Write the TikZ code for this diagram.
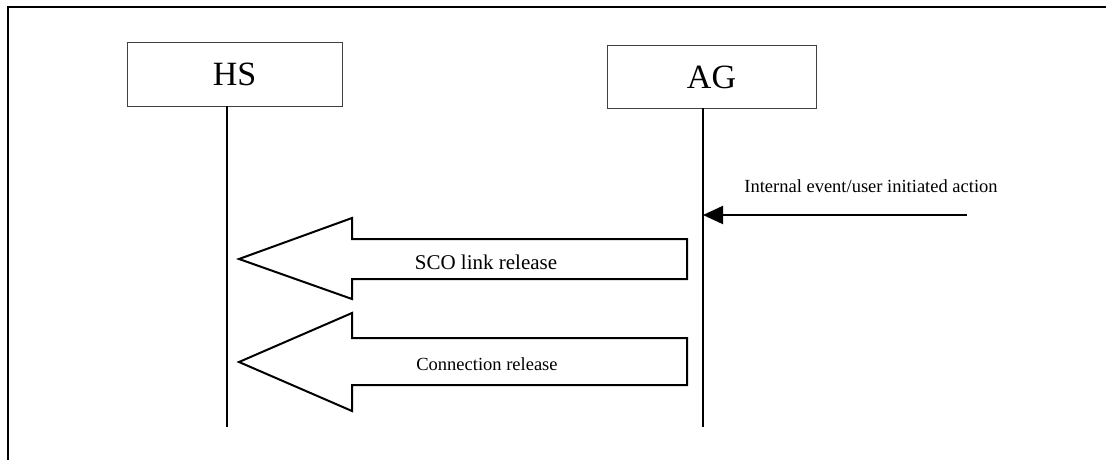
\documentclass[tikz,border=0pt]{standalone}
\usepackage{fontspec}
\setmainfont{Liberation Serif}
\usetikzlibrary{arrows.meta}
\tikzset{
  frameline/.style={line width=2pt, black},
  entity/.style={draw=black!75, line width=1pt, fill=white, inner sep=0pt, font=\fontsize{34}{36}\selectfont},
  lifeline/.style={line width=2pt, black},
  msg/.style={line width=2pt, black, -{Triangle[length=20pt,width=18pt]}},
  blockarrow/.style={line width=2pt, black, line join=miter, fill=white},
  biglabel/.style={inner sep=0pt, font=\fontsize{21}{23}\selectfont},
  smalllabel/.style={inner sep=0pt, font=\fontsize{18.5}{20}\selectfont}
}
\begin{document}
\begin{tikzpicture}[x=1pt,y=-1pt]
\useasboundingbox (0,0) rectangle (1106,460);
\draw[frameline] (1106,7) -- (8,7) -- (8,460);
% entities
\node[entity, minimum width=215pt, minimum height=63pt] (hs) at (234.5,74.5) {HS};
\node[entity, minimum width=209pt, minimum height=62pt] (ag) at (711.5,77) {AG};
% lifelines
\coordinate (hsT) at (227,106);
\coordinate (hsB) at (227,427);
\coordinate (agT) at (703,108);
\coordinate (agB) at (703,427);
\draw[lifeline] (hsT) -- (hsB);
\draw[lifeline] (agT) -- (agB);
% internal event
\coordinate (ext) at (967,215);
\coordinate (extEnd) at (703,215);
\draw[msg] (ext) -- (extEnd);
\node[smalllabel] (evt) at (871,186) {Internal event/user initiated action};
% block arrows
\draw[blockarrow] (687,239) -- (352,239) -- (352,218) -- (239,259) -- (352,299) -- (352,279) -- (687,279) -- cycle;
\node[biglabel] (sco) at (486,262) {SCO link release};
\draw[blockarrow] (687,338) -- (352,338) -- (352,313) -- (239,362) -- (352,411) -- (352,385) -- (687,385) -- cycle;
\node[smalllabel] (conn) at (487,364) {Connection release};
\end{tikzpicture}
\end{document}
